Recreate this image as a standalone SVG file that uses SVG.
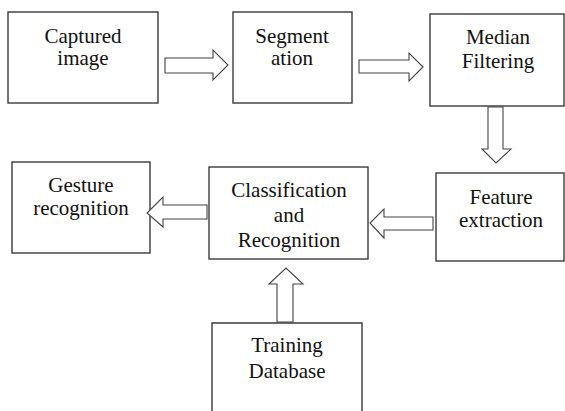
<svg xmlns="http://www.w3.org/2000/svg" width="565" height="411" viewBox="0 0 565 411">
<style>
.box{fill:#fff;stroke:#3a3a3a;stroke-width:1.4}
.arr{fill:#fff;stroke:#444;stroke-width:1.1;stroke-linejoin:miter}
.t{font-family:'Liberation Serif','DejaVu Serif',serif;font-size:21px;fill:#111;text-anchor:middle}
</style>
<rect width="565" height="411" fill="#fff"/>
<g id="captured"><rect class="box" x="8" y="12" width="150" height="91"/><text class="t" font-family="Liberation Serif, serif" x="83" y="43">Captured</text><text class="t" font-family="Liberation Serif, serif" x="83" y="65">image</text></g>
<g id="segmentation"><rect class="box" x="233" y="12" width="119" height="91"/><text class="t" font-family="Liberation Serif, serif" x="292" y="43">Segment</text><text class="t" font-family="Liberation Serif, serif" x="292" y="65">ation</text></g>
<g id="median"><rect class="box" x="430" y="14" width="134" height="92"/><text class="t" font-family="Liberation Serif, serif" x="498" y="44">Median</text><text class="t" font-family="Liberation Serif, serif" x="498" y="68">Filtering</text></g>
<g id="feature"><rect class="box" x="436" y="173" width="128" height="88"/><text class="t" font-family="Liberation Serif, serif" x="501" y="204">Feature</text><text class="t" font-family="Liberation Serif, serif" x="501" y="227">extraction</text></g>
<g id="classification"><rect class="box" x="209" y="167" width="159" height="92"/><text class="t" font-family="Liberation Serif, serif" x="289" y="197">Classification</text><text class="t" font-family="Liberation Serif, serif" x="289" y="222">and</text><text class="t" font-family="Liberation Serif, serif" x="289" y="247">Recognition</text></g>
<g id="gesture"><rect class="box" x="12" y="162" width="138" height="91"/><text class="t" font-family="Liberation Serif, serif" x="81" y="192">Gesture</text><text class="t" font-family="Liberation Serif, serif" x="81" y="215">recognition</text></g>
<g id="training"><path class="box" d="M212 411V323H362V411"/><text class="t" font-family="Liberation Serif, serif" x="287" y="352">Training</text><text class="t" font-family="Liberation Serif, serif" x="287" y="378">Database</text></g>
<g id="connectors">
<polygon class="arr" points="165,58 213,58 213,50 228,65 213,80 213,73 165,73"/>
<polygon class="arr" points="359,60 409,60 409,53 423,67 409,81 409,73 359,73"/>
<polygon class="arr" points="488,107 503,107 503,149 511,149 496,163 482,149 488,149"/>
<polygon class="arr" points="433,217 384,217 384,209 370,223 384,238 384,230 433,230"/>
<polygon class="arr" points="207,205 163,205 163,197 147,213 163,227 163,219 207,219"/>
<polygon class="arr" points="277,322 277,284 269,284 286,268 303,284 293,284 293,322"/>
</g>
</svg>
